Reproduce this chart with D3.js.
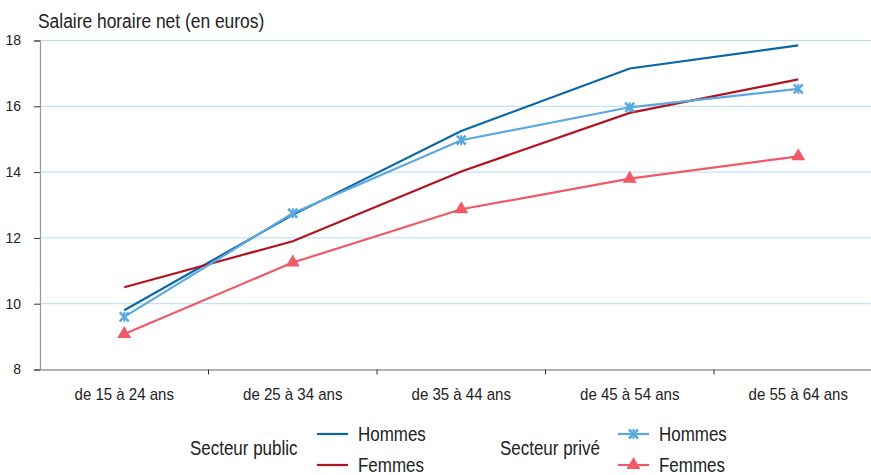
<!DOCTYPE html>
<html><head><meta charset="utf-8">
<script src="https://cdn.jsdelivr.net/npm/d3@7"></script>
<style>
body{margin:0;background:#fff;}
svg{display:block;font-family:"Liberation Sans",Arial,Helvetica,sans-serif;}
</style></head>
<body><svg id="c" width="871" height="475"></svg>
<script>
// Salaire horaire net moyen par tranche d'âge, secteur et sexe
const categories = ["de 15 à 24 ans","de 25 à 34 ans","de 35 à 44 ans","de 45 à 54 ans","de 55 à 64 ans"];
const publicHommes = [9.8, 12.7, 15.25, 17.15, 17.85];
const publicFemmes = [10.5, 11.9, 14.02, 15.8, 16.82];
const priveHommes = [9.6, 12.75, 14.97, 15.97, 16.53];
const priveFemmes = [9.08, 11.25, 12.87, 13.8, 14.48];
const yTicks = [8, 10, 12, 14, 16, 18];

const series = [
  {values: publicHommes, color: "#0a67a3", marker: null},
  {values: publicFemmes, color: "#b3121f", marker: null},
  {values: priveHommes, color: "#5ba8df", marker: "star"},
  {values: priveFemmes, color: "#ef5a66", marker: "triangle"}
];

const svg = d3.select("#c");
const plotLeft = 40, plotTop = 40.5, plotBottom = 369.5, bandW = 168.5;
const x = d3.scaleBand().domain(categories).range([plotLeft, plotLeft + bandW * categories.length]);
const y = d3.scaleLinear().domain([8, 18]).range([plotBottom, plotTop]);
const cx = c => x(c) + x.bandwidth() / 2;

// condensed text helper: horizontal squeeze around the anchor point
function label(g, tx, ty, str, size, sx) {
  return g.append("text").attr("transform", `translate(${tx},${ty}) scale(${sx},1)`)
    .attr("font-size", size).attr("fill", "#222").text(str);
}

// grid
svg.append("g").selectAll("line").data(yTicks.filter(t => t > 8)).join("line")
  .attr("x1", plotLeft).attr("x2", 871).attr("y1", d => y(d)).attr("y2", d => y(d))
  .attr("stroke", "#b5dbf2").attr("stroke-width", 1);

// y axis
const ya = svg.append("g").attr("transform", `translate(${plotLeft},0)`)
  .call(d3.axisLeft(y).tickValues(yTicks).tickSize(6).tickPadding(13).tickFormat(d3.format("d")));
ya.select(".domain").attr("stroke", "#9a9a9a").attr("stroke-width", 1.3);
ya.selectAll(".tick line").attr("stroke", "#333");
ya.selectAll(".tick text").attr("font-size", 14).attr("fill", "#222").attr("font-family", "Liberation Sans, Arial, sans-serif");

// x axis
const xa = svg.append("g").attr("transform", `translate(0,${plotBottom})`)
  .call(d3.axisBottom(x).tickSize(0).tickPadding(19));
xa.select(".domain").attr("stroke", "#9a9a9a").attr("stroke-width", 1.3);
xa.selectAll(".tick text").attr("font-size", 16).attr("fill", "#222")
  .attr("font-family", "Liberation Sans, Arial, sans-serif").attr("transform", "scale(0.94,1)");
// separators between categories
xa.append("g").selectAll("line").data(categories.slice(1)).join("line")
  .attr("x1", d => x(d)).attr("x2", d => x(d)).attr("y1", 0).attr("y2", 5)
  .attr("stroke", "#333");

// title
label(svg, 38, 28, "Salaire horaire net (en euros)", 20, 0.87);

const line = d3.line().x((d, i) => cx(categories[i])).y(d => y(d));
const triSym = d3.symbol().type(d3.symbolTriangle).size(85);

function drawMarker(g, type, color, px, py) {
  if (type === "star") {
    g.append("path").attr("d", d3.symbol().type(d3.symbolTimes).size(55)())
      .attr("transform", `translate(${px},${py})`).attr("stroke", color).attr("stroke-width", 2.6).attr("fill", "none");
    g.append("line").attr("x1", px).attr("x2", px).attr("y1", py - 5).attr("y2", py + 5)
      .attr("stroke", color).attr("stroke-width", 2);
  } else if (type === "triangle") {
    g.append("path").attr("d", triSym()).attr("transform", `translate(${px},${py})`).attr("fill", color);
  }
}

series.forEach(s => {
  const g = svg.append("g");
  g.append("path").datum(s.values).attr("d", line).attr("fill", "none")
    .attr("stroke", s.color).attr("stroke-width", 2.2);
  if (s.marker) s.values.forEach((v, i) => drawMarker(g, s.marker, s.color, cx(categories[i]), y(v)));
});

// legend
const lg = svg.append("g");
label(lg, 190, 455, "Secteur public", 19.5, 0.87);
label(lg, 500, 455, "Secteur privé", 19.5, 0.87);
const items = [
  {s: series[0], label: "Hommes", x0: 317, yy: 434},
  {s: series[1], label: "Femmes", x0: 317, yy: 465},
  {s: series[2], label: "Hommes", x0: 618, yy: 434},
  {s: series[3], label: "Femmes", x0: 618, yy: 465}
];
items.forEach(it => {
  lg.append("line").attr("x1", it.x0).attr("x2", it.x0 + 31).attr("y1", it.yy).attr("y2", it.yy)
    .attr("stroke", it.s.color).attr("stroke-width", 2.2);
  if (it.s.marker) drawMarker(lg, it.s.marker, it.s.color, it.x0 + 15.5, it.yy);
  label(lg, it.x0 + 41, it.yy + 7, it.label, 19.5, 0.87);
});
</script></body></html>
